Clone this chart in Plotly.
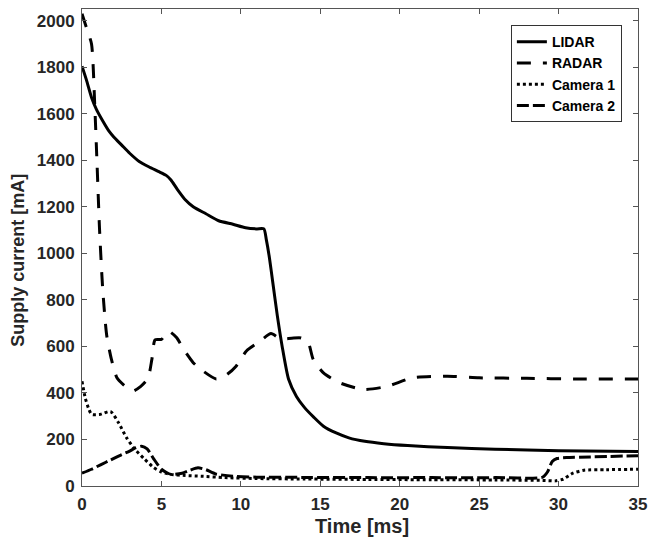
import plotly.graph_objects as go

# ---- data ----
lidar_t = [0, 0.3, 0.6, 0.9, 1.3, 1.7, 2.0, 2.5, 3.0, 3.6, 4.2, 4.8, 5.3, 5.6, 6.0, 6.5, 7.0, 7.8, 8.6, 9.5, 10.3, 11.0, 11.45,
           11.6, 11.8, 12.0, 12.3, 12.6, 13.0, 13.5, 14.0, 14.6, 15.2, 16.0, 16.8, 17.8, 19.0, 20.5, 23, 26, 30, 35]
lidar_v = [1804, 1740, 1670, 1620, 1570, 1525, 1500, 1465, 1430, 1395, 1372, 1352, 1335, 1315, 1275, 1230, 1200, 1170, 1140, 1125, 1110, 1105, 1105,
           1060, 980, 880, 730, 600, 460, 385, 338, 295, 257, 228, 207, 192, 182, 174, 165, 158, 152, 148]

radar_t = [0, 0.3, 0.6, 0.8, 0.95, 1.1, 1.3, 1.55, 1.85, 2.2, 2.6, 3.2, 3.7, 4.15, 4.4, 4.6, 5.0, 5.45, 5.95, 6.4, 7.0, 7.6,
           8.45, 9.1, 9.7, 10.35, 11.2, 11.9, 12.5, 13.2, 13.8, 14.25, 14.55, 15.2, 16.2, 17.7, 19.2, 20.8, 23, 25, 28, 31, 35]
radar_v = [2030, 1965, 1900, 1640, 1380, 1110, 850, 650, 545, 465, 436, 408, 428, 462, 545, 628, 630, 665, 638, 587, 530, 495,
           460, 478, 515, 580, 622, 655, 632, 635, 636, 615, 545, 486, 444, 415, 428, 465, 472, 465, 463, 460, 460]

cam1_t = [0, 0.2, 0.4, 0.6, 1.1, 1.8, 2.3, 2.8, 3.3, 3.9, 4.5, 5.0, 5.6, 6.5, 7.5, 9, 11, 14, 18, 22, 26, 29, 29.8,
          30.3, 30.9, 31.6, 33, 35]
cam1_v = [450, 380, 336, 308, 307, 320, 272, 208, 160, 118, 80, 60, 50, 45, 42, 36, 32, 30, 28, 27, 26, 24, 22,
          30, 55, 68, 70, 72]

cam2_t = [0, 0.6, 1.2, 1.8, 2.5, 3.0, 3.4, 3.75, 4.1, 4.5, 5.0, 5.6, 6.3, 6.8, 7.3, 7.8, 8.4, 9.5, 11, 14, 18, 22, 26,
          29.0, 29.3, 29.6, 29.9, 30.5, 32, 35]
cam2_v = [55, 72, 92, 112, 135, 150, 165, 171, 160, 118, 72, 50, 55, 68, 78, 70, 52, 42, 38, 37, 36, 36, 36,
          38, 60, 105, 118, 122, 125, 130]

series_names = ["LIDAR", "RADAR", "Camera 1", "Camera 2"]
x_ticks = [0, 5, 10, 15, 20, 25, 30, 35]
y_ticks = [0, 200, 400, 600, 800, 1000, 1200, 1400, 1600, 1800, 2000]
x_title = "Time [ms]"
y_title = "Supply current [mA]"

FONT = "Liberation Sans, Arial, sans-serif"
TXT = "#262626"

fig = go.Figure()
styles = [("solid", 3), ("14px,12px", 3), ("dot", 3), ("12px,4px", 3)]
for name, t, v, (dash, w) in zip(series_names,
                                 [lidar_t, radar_t, cam1_t, cam2_t],
                                 [lidar_v, radar_v, cam1_v, cam2_v],
                                 styles):
    fig.add_trace(go.Scatter(x=t, y=v, mode="lines", name=name,
                             line=dict(color="black", width=w, dash=dash, shape="spline", smoothing=0.6)))

axis_common = dict(showgrid=False, zeroline=False, showline=True, linecolor="#555555", linewidth=1,
                   mirror="ticks", ticks="inside", ticklen=5, tickcolor="#555555",
                   ticklabeloverflow="allow",
                   tickfont=dict(family=FONT, size=17, color=TXT, weight="bold"))

fig.update_layout(
    width=651, height=545,
    margin=dict(l=82, r=13, t=9, b=59, autoexpand=False),
    paper_bgcolor="white", plot_bgcolor="white",
    font=dict(family=FONT, color=TXT),
    xaxis=dict(range=[0, 35], tickvals=x_ticks, ticklabelstandoff=3, **axis_common),
    yaxis=dict(range=[0, 2050], tickvals=y_ticks, ticklabelstandoff=3, **axis_common),
    legend=dict(x=0.971, y=0.966, xanchor="right", yanchor="top",
                bgcolor="white", bordercolor="#333333", borderwidth=1,
                font=dict(family=FONT, size=14, color="black", weight="bold"),
                tracegroupgap=0, itemwidth=30),
    showlegend=True,
    annotations=[
        dict(text=x_title, xref="paper", yref="paper", x=0.504, y=0, yshift=-40,
             xanchor="center", yanchor="middle", showarrow=False,
             font=dict(family=FONT, size=20, color=TXT, weight="bold")),
        dict(text=y_title, xref="paper", yref="paper", x=0, xshift=-64, y=0.472,
             xanchor="center", yanchor="middle", textangle=-90, showarrow=False,
             font=dict(family=FONT, size=18, color=TXT, weight="bold")),
    ],
)

# remove the browser's default 8px body margin so the figure sits at the page origin
fig.write_html("out.html",
               config={"displayModeBar": False},
               post_script="document.body.style.margin='0';document.body.style.overflow='hidden';")
